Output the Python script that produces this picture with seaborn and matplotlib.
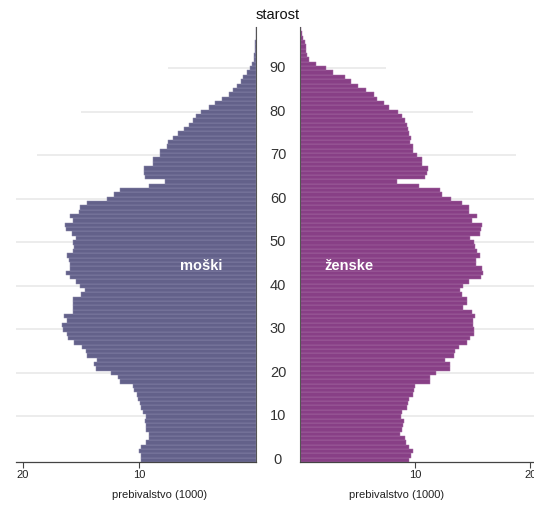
import numpy as np
import pandas as pd
import matplotlib
matplotlib.use('Agg')
import matplotlib.pyplot as plt
import seaborn as sns

# population by single year of age (thousands), ages 0-99
ages = list(range(100))
male = [9.85, 9.85, 10.0, 9.85, 9.45, 9.2, 9.2, 9.4, 9.4, 9.5,
        9.4, 9.7, 9.85, 9.95, 10.1, 10.2, 10.45, 10.55, 11.65, 11.8,
        12.45, 13.7, 13.9, 13.6, 14.45, 14.55, 14.9, 15.6, 16.15, 16.2,
        16.55, 16.6, 16.2, 16.45, 15.7, 15.7, 15.7, 15.65, 15.0, 14.65,
        15.05, 15.4, 15.9, 16.3, 15.9, 15.9, 16.0, 16.2, 15.65, 15.6,
        15.65, 15.4, 15.8, 16.3, 16.4, 15.65, 15.9, 15.2, 15.05, 14.45,
        12.75, 12.15, 11.65, 9.2, 7.8, 9.5, 9.6, 9.6, 8.85, 8.85,
        8.2, 8.2, 7.65, 7.55, 7.15, 6.65, 6.2, 5.7, 5.4, 5.1,
        4.75, 4.0, 3.5, 2.95, 2.3, 2.0, 1.65, 1.3, 1.1, 0.75,
        0.5, 0.3, 0.2, 0.15, 0.1, 0.08, 0.05, 0.03, 0.02, 0.01]
female = [9.5, 9.6, 9.85, 9.5, 9.2, 9.15, 8.7, 8.9, 8.95, 9.0,
          8.8, 8.85, 9.3, 9.35, 9.45, 9.8, 9.9, 10.0, 11.25, 11.3,
          11.8, 13.0, 13.05, 12.6, 13.35, 13.5, 13.85, 14.5, 14.8, 15.1,
          15.1, 15.0, 15.0, 15.2, 14.9, 14.2, 14.5, 14.5, 14.05, 13.9,
          14.2, 14.65, 15.7, 15.9, 15.8, 15.25, 15.3, 15.6, 15.35, 15.2,
          15.1, 14.8, 15.6, 15.7, 15.8, 14.9, 15.35, 14.7, 14.65, 14.05,
          13.1, 12.3, 12.2, 10.3, 8.4, 10.9, 11.0, 11.1, 10.6, 10.6,
          10.2, 9.85, 9.8, 9.55, 9.6, 9.5, 9.35, 9.3, 9.15, 8.9,
          8.55, 7.75, 7.3, 6.7, 6.4, 5.75, 5.05, 4.4, 3.9, 2.9,
          2.3, 1.4, 0.8, 0.6, 0.5, 0.55, 0.45, 0.3, 0.15, 0.05]

age_ticks = [0, 10, 20, 30, 40, 50, 60, 70, 80, 90]
x_ticks = [10, 20]
# how far each horizontal guide line reaches out from the centre
grid_reach = [20.6, 20.6, 20.6, 20.6, 20.6, 20.6, 20.6, 18.8, 15.0, 7.5]

df = pd.DataFrame({'age': ages, 'male': male, 'female': female})

sns.set_style('white')
plt.rcParams['font.family'] = ['Liberation Sans', 'DejaVu Sans']

fig = plt.figure(figsize=(5.34, 5.05), dpi=100)
ax_m = fig.add_axes([16 / 534, 43 / 505, 240 / 534, 435 / 505])
ax_f = fig.add_axes([300 / 534, 43 / 505, 236 / 534, 435 / 505])

panels = [(ax_m, 'male', '#63618a', '#8c8aab', (20.57, 0)),
          (ax_f, 'female', '#883f86', '#a76ea5', (0, 20.5))]
for ax, col, color, edge, xlim in panels:
    sns.barplot(data=df, x=col, y='age', orient='h', native_scale=True,
                color=color, width=1.0, linewidth=0.35, edgecolor=edge,
                saturation=1, ax=ax, zorder=2)
    ax.hlines(age_ticks[1:], 0, grid_reach[1:], color='#e9e9e9', lw=1.2, zorder=1)
    ax.set_xlim(*xlim)
    ax.set_ylim(-0.5, 99.5)
    ax.set_yticks([])
    ax.set_ylabel('')
    ax.set_xticks(x_ticks)
    ax.tick_params(axis='x', bottom=True, length=4, width=0.8, color='#444',
                   labelsize=8, labelcolor='#222', pad=2)
    ax.set_xlabel('prebivalstvo (1000)', fontsize=8, color='#222', labelpad=3)
    for s in ax.spines.values():
        s.set_visible(False)
    ax.spines['bottom'].set_visible(True)
    ax.spines['bottom'].set_color('#444')
    ax.spines['bottom'].set_linewidth(0.9)

ax_m.spines['right'].set_visible(True)
ax_m.spines['right'].set_color('#555')
ax_f.spines['left'].set_visible(True)
ax_f.spines['left'].set_color('#555')
ax_m.xaxis.set_label_coords(1 - 96 / 240, -0.065)
ax_f.xaxis.set_label_coords(97 / 236, -0.065)

# age labels in the centre column
for a in age_ticks:
    y = ax_m.transData.transform((0, a))[1]
    fig.text(278 / 534, fig.transFigure.inverted().transform((0, y))[1], str(a),
             ha='center', va='center', fontsize=10.5, color='#333')
fig.text(278 / 534, 1 - 15 / 505, 'starost', ha='center', va='center', fontsize=10.5, color='#111')

ax_m.text(201 / 534, 1 - 266 / 505, 'moški', transform=fig.transFigure, ha='center', va='center',
          fontsize=10.5, fontweight='bold', color='white', zorder=5)
ax_f.text(349 / 534, 1 - 266 / 505, 'ženske', transform=fig.transFigure, ha='center', va='center',
          fontsize=10.5, fontweight='bold', color='white', zorder=5)

plt.savefig('out.png', dpi=100)
